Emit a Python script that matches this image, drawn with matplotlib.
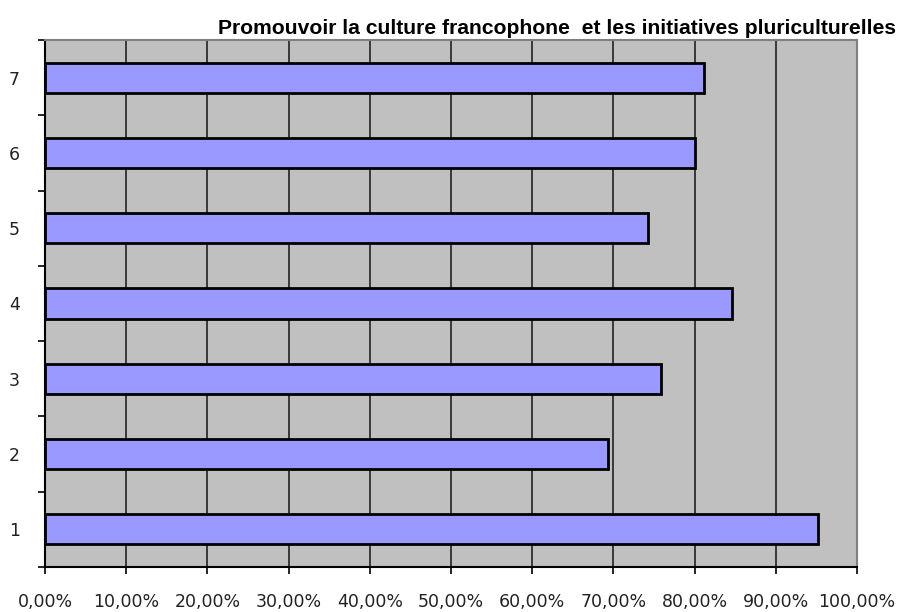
import matplotlib
matplotlib.use("Agg")
import matplotlib.pyplot as plt
from matplotlib.ticker import FixedLocator

categories = ["1", "2", "3", "4", "5", "6", "7"]
values = [95.2, 69.3, 75.9, 84.6, 74.2, 80.1, 81.2]
xtick_values = [0, 10, 20, 30, 40, 50, 60, 70, 80, 90, 100]
title = "Promouvoir la culture francophone  et les initiatives pluriculturelles"

fig = plt.figure(figsize=(8.99, 6.12), dpi=100)
ax = fig.add_axes([45/899, 45/612, (857-45)/899, (567-40)/612])
ax.set_facecolor("#C0C0C0")

pos = list(range(len(categories)))
ax.barh(pos, values, height=0.4, color="#9999FF", edgecolor="black", linewidth=2, zorder=3)

ax.set_xlim(0, 100)
ax.set_ylim(-0.5, len(categories) - 0.5)
ax.set_xticks(xtick_values)
ax.set_xticklabels([f"{v:.2f}".replace(".", ",") + "%" for v in xtick_values])
ax.xaxis.grid(True, color="#222222", linewidth=1.2, zorder=1)
ax.set_axisbelow(True)

ax.set_yticks(pos)
ax.set_yticklabels(categories)
ax.yaxis.set_minor_locator(FixedLocator([p + 0.5 for p in [-1] + pos]))
ax.tick_params(axis="y", which="major", length=0, pad=18)
ax.tick_params(axis="y", which="minor", length=5, width=1.2, direction="out", color="black")
ax.tick_params(axis="x", which="major", length=5, width=1.2, direction="out", color="black", pad=14)

for lab in ax.get_xticklabels() + ax.get_yticklabels():
    lab.set_fontfamily("DejaVu Sans")
    lab.set_fontsize(12.5)
    lab.set_color("#222222")

for s in ["top", "right"]:
    ax.spines[s].set_color("#808080")
    ax.spines[s].set_linewidth(1.5)
for s in ["left", "bottom"]:
    ax.spines[s].set_color("black")
    ax.spines[s].set_linewidth(1.5)

fig.text(896/899, 1 - 29/612, title, ha="right", va="center",
         fontfamily="Liberation Sans", fontweight="bold", fontsize=15.2)

fig.savefig("out.png", dpi=100)
